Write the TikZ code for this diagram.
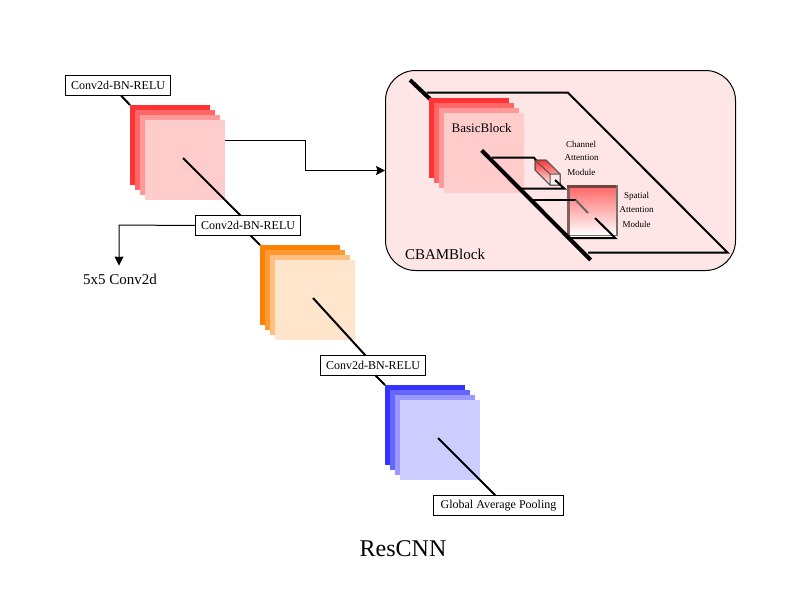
\documentclass[tikz,border=0pt]{standalone}
\usepackage{fontspec}
\setmainfont{Liberation Serif}
\usetikzlibrary{arrows.meta,shadings}
\newcommand{\fsz}[1]{\fontsize{#1}{#1}\selectfont}
\tikzset{
  sq/.style={minimum width=80pt,minimum height=80pt,inner sep=0pt,outer sep=0pt,anchor=north west},
  lbl/.style={draw=black,line width=1pt,fill=white,minimum height=20pt,inner sep=0pt,outer sep=0pt,anchor=north west,font=\fsz{12}},
  conn/.style={draw=black,line width=2pt},
  thick conn/.style={draw=black,line width=4pt},
  mid conn/.style={draw=black,line width=2pt,line join=miter},
  plain/.style={inner sep=0pt,outer sep=0pt},
  tiny lbl/.style={plain,font=\fsz{9}},
  tip/.style={-{Stealth[length=9pt,width=9pt,inset=1.5pt]}},
}
\definecolor{ra}{HTML}{FF3333}\definecolor{rb}{HTML}{FF6666}\definecolor{rc}{HTML}{FF9999}\definecolor{rd}{HTML}{FFCCCC}
\definecolor{oa}{HTML}{FF8000}\definecolor{ob}{HTML}{FF9933}\definecolor{oc}{HTML}{FFBF80}\definecolor{od}{HTML}{FFE5CC}
\definecolor{ba}{HTML}{3333FF}\definecolor{bb}{HTML}{6666FF}\definecolor{bc}{HTML}{9999FF}\definecolor{bd}{HTML}{CCCCFF}
\definecolor{panel}{HTML}{FFE6E6}
\definecolor{edge}{HTML}{5A5050}
\definecolor{band}{HTML}{7A4040}
\definecolor{bandl}{HTML}{806060}
\begin{document}
\begin{tikzpicture}[x=1pt,y=-1pt]
\useasboundingbox (0,0) rectangle (800,600);
\fill[white] (0,0) rectangle (800,600);
% CBAM panel
\draw[fill=panel,line width=1pt,rounded corners=30pt] (385.5,70.5) rectangle (735.5,270.5);
\coordinate (o0) at (410,80);
\coordinate (o1) at (430,99);
\coordinate (o2) at (426.7,92.7);
\coordinate (o3) at (568,92.7);
\coordinate (o4) at (727.7,252.7);
\coordinate (o5) at (588,252.7);
\draw[thick conn] (o0) -- (o1);
\draw[mid conn] (o2) -- (o3) -- (o4) -- (o5);
% inner stack
\node[sq,fill=ra] (ia) at (429,98) {};
\node[sq,fill=rb] (ib) at (434,103) {};
\node[sq,fill=rc] (ic) at (439,108) {};
\node[sq,fill=rd] (id) at (444,113) {};
\node[plain,font=\fsz{13}] (basic) at (481.7,128.5) {BasicBlock};
\coordinate (t0) at (481.7,150.5);
\coordinate (t1) at (590.7,260);
% channel cube
\shade[top color=ra,bottom color=panel!70!white,draw=edge,line width=1pt,line join=round]
  (535,160) -- (546,160) -- (560,174) -- (560,185) -- (550,185) -- (535,170) -- cycle;
\fill[white,opacity=.75] (550,174) -- (560,174) -- (560,185) -- (550,185) -- cycle;
\draw[draw=edge,line width=1pt] (535,160) -- (550,174) -- (560,174) (550,174) -- (550,185)
  (535,160) -- (546,160) -- (560,174) -- (560,185) -- (550,185) -- (535,170) -- cycle;
% spatial box
\fill[white,opacity=.7] (570,235) rectangle (617,238);
\shade[top color=rb,bottom color=white] (568,186) rectangle (617,235);
\fill[bandl] (567.3,185) rectangle (570,235.5);
\fill[band] (567.3,185) rectangle (617.5,188);
\draw[draw=black!55,line width=1.2pt] (617,185) -- (617,235.3) -- (570,235.3);
% attention connectors
\coordinate (a0) at (491.7,157.7);
\coordinate (a1) at (534,157.7);
\coordinate (a2) at (536,160);
\coordinate (b0) at (555,180);
\coordinate (b1) at (564.5,188.7);
\coordinate (b2) at (521,188.7);
\coordinate (d0) at (532,200);
\coordinate (d1) at (575.7,200);
\coordinate (d2) at (588,213);
\coordinate (e0) at (595,218);
\coordinate (e1) at (615.3,238);
\coordinate (e2) at (570,238);
\draw[mid conn] (a0) -- (a1) -- (a2);
\draw[mid conn] (b0) -- (b1) -- (b2);
\draw[mid conn] (d0) -- (d1);
\draw[draw=black!60,line width=2pt] (d1) -- (d2);
\draw[mid conn] (e0) -- (e1) -- (e2);
\draw[thick conn] (t0) -- (t1);
\node[tiny lbl] (ch1) at (581,144) {Channel};
\node[tiny lbl] (ch2) at (581.7,158) {Attention};
\node[tiny lbl] (ch3) at (581.3,172) {Module};
\node[tiny lbl] (sp1) at (636.7,196) {Spatial};
\node[tiny lbl] (sp2) at (636.7,210) {Attention};
\node[tiny lbl] (sp3) at (636.7,224) {Module};
\node[plain,font=\fsz{15}] (cbam) at (445,254.5) {CBAMBlock};
% stack 1
\node[sq,fill=ra] (s1a) at (130,105) {};
\node[sq,fill=rb] (s1b) at (135,110) {};
\node[sq,fill=rc] (s1c) at (140,115) {};
\node[sq,fill=rd] (s1d) at (145,120) {};
% stack 2
\node[sq,fill=oa] (s2a) at (260,245) {};
\node[sq,fill=ob] (s2b) at (265,250) {};
\node[sq,fill=oc] (s2c) at (270,255) {};
\node[sq,fill=od] (s2d) at (275,260) {};
% stack 3
\node[sq,fill=ba] (s3a) at (385,385) {};
\node[sq,fill=bb] (s3b) at (390,390) {};
\node[sq,fill=bc] (s3c) at (395,395) {};
\node[sq,fill=bd] (s3d) at (400,400) {};
% labels
\node[lbl,minimum width=105pt] (l1) at (65.5,75.5) {Conv2d-BN-RELU};
\node[lbl,minimum width=105pt] (l2) at (195.5,215.5) {Conv2d-BN-RELU};
\node[lbl,minimum width=105pt] (l3) at (320.5,355.5) {Conv2d-BN-RELU};
\node[lbl,minimum width=130pt] (l4) at (433.5,495.5) {Global Average Pooling};
\node[plain,font=\fsz{15}] (conv5) at (120,279.5) {5x5 Conv2d};
\node[plain,font=\fsz{24}] (title) at (403,548.5) {ResCNN};
% connectors
\coordinate (c1) at (183,158);
\coordinate (c2) at (313,298);
\coordinate (c3) at (438,438);
\coordinate (g1) at (305.5,140.5);
\coordinate (g2) at (305.5,170.5);
\coordinate (h1) at (119,225);
\coordinate (h2) at (119,257);
\coordinate (h3) at (119,265.5);
\draw[conn] ([xshift=3pt]l1.south) -- (s1a.north west);
\draw[conn] (c1) -- ([xshift=-7.5pt]l2.north);
\draw[conn] ([xshift=2.5pt]l2.south) -- (s2a.north west);
\draw[conn] (c2) -- ([xshift=-7.5pt]l3.north);
\draw[conn] ([xshift=2.5pt]l3.south) -- (s3a.north west);
\draw[conn] (c3) -- ([xshift=-3pt]l4.north);
\draw[line width=1.2pt,tip] (s1d.east |- g1) -- (g1) -- (g2) -- (385,170.5);
\draw[line width=1pt] (l2.west) -- (h1) -- (h2);
\fill[black] (h3) -- (114.5,256.5) -- (h2) -- (123.5,256.5) -- cycle;
\end{tikzpicture}
\end{document}
